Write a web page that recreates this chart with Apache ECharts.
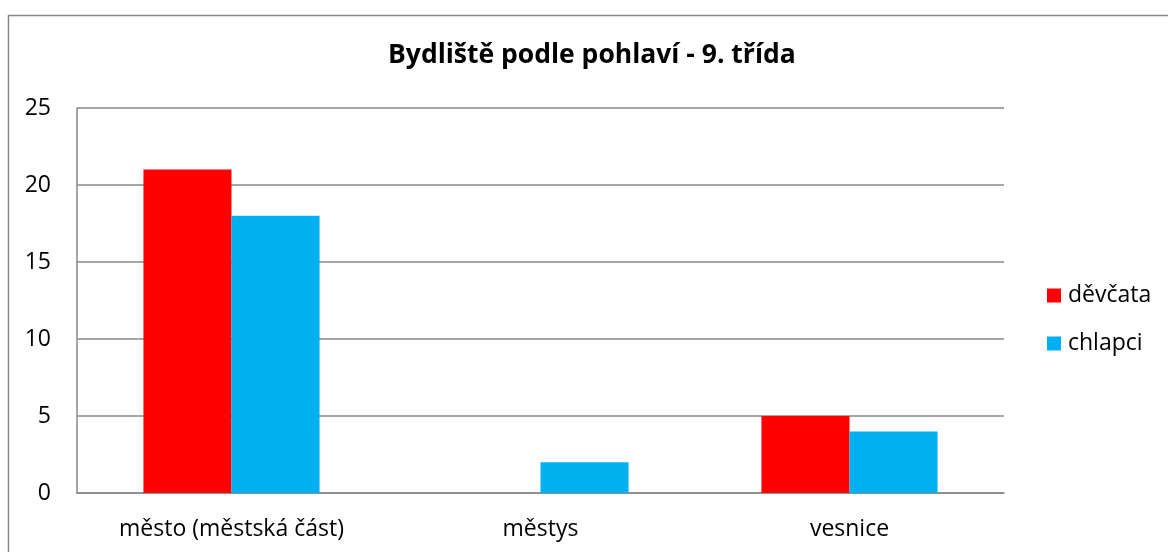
<!DOCTYPE html>
<html>
<head>
<meta charset="utf-8">
<script src="https://cdn.jsdelivr.net/npm/echarts@6/dist/echarts.min.js"></script>
<style>
  html, body { margin: 0; padding: 0; background: #fff; }
  #chart { width: 1168px; height: 552px; }
</style>
</head>
<body>
<div id="chart"></div>
<script>
/* ---------- data ---------- */
const titleText = 'Bydliště podle pohlaví - 9. třída'
const categories = ['město (městská část)', 'městys', 'vesnice']
const girls = [21, 0, 5]
const boys = [18, 2, 4]
const seriesNames = ['děvčata', 'chlapci']

/* ---------- styles ---------- */
const font = '"Open Sans", "Noto Sans", sans-serif'
const gridColor = '#888888'
const colors = ['#ff0000', '#00b0f0']

const chart = echarts.init(document.getElementById('chart'))

chart.setOption({
  animation: false,
  textStyle: { fontFamily: font },
  graphic: [
    {
      type: 'rect',
      shape: { x: 8.5, y: 15.5, width: 1200, height: 600 },
      style: { fill: 'none', stroke: gridColor, lineWidth: 1.5 },
      silent: true
    }
  ],
  title: {
    text: titleText,
    left: 388,
    top: 42,
    padding: 0,
    textStyle: { fontFamily: font, fontWeight: 'bold', fontSize: 26.5, color: '#000' }
  },
  legend: {
    orient: 'vertical',
    left: 1047,
    top: 284,
    itemWidth: 14,
    itemHeight: 14,
    itemGap: 25,
    padding: 0,
    icon: 'rect',
    textStyle: { fontFamily: font, fontSize: 23, color: '#000', padding: [0, 0, 0, 2] },
    data: seriesNames
  },
  grid: {
    left: 77,
    right: 164,
    top: 108,
    bottom: 59
  },
  xAxis: {
    type: 'category',
    data: categories,
    axisLine: { show: true, lineStyle: { color: gridColor, width: 1.5 } },
    axisTick: { show: false },
    axisLabel: { fontFamily: font, fontSize: 23, color: '#000', margin: 25 }
  },
  yAxis: {
    type: 'value',
    min: 0,
    max: 25,
    interval: 5,
    axisLine: { show: true, lineStyle: { color: gridColor, width: 1.5 } },
    axisTick: { show: false },
    axisLabel: { fontFamily: font, fontSize: 23, color: '#000', margin: 26 },
    splitLine: { lineStyle: { color: gridColor, width: 1.5 } }
  },
  series: [
    {
      name: seriesNames[0],
      type: 'bar',
      data: girls,
      barGap: '0%',
      barCategoryGap: '43%',
      itemStyle: { color: colors[0] }
    },
    {
      name: seriesNames[1],
      type: 'bar',
      data: boys,
      barGap: '0%',
      barCategoryGap: '43%',
      itemStyle: { color: colors[1] }
    }
  ]
})
</script>
</body>
</html>
